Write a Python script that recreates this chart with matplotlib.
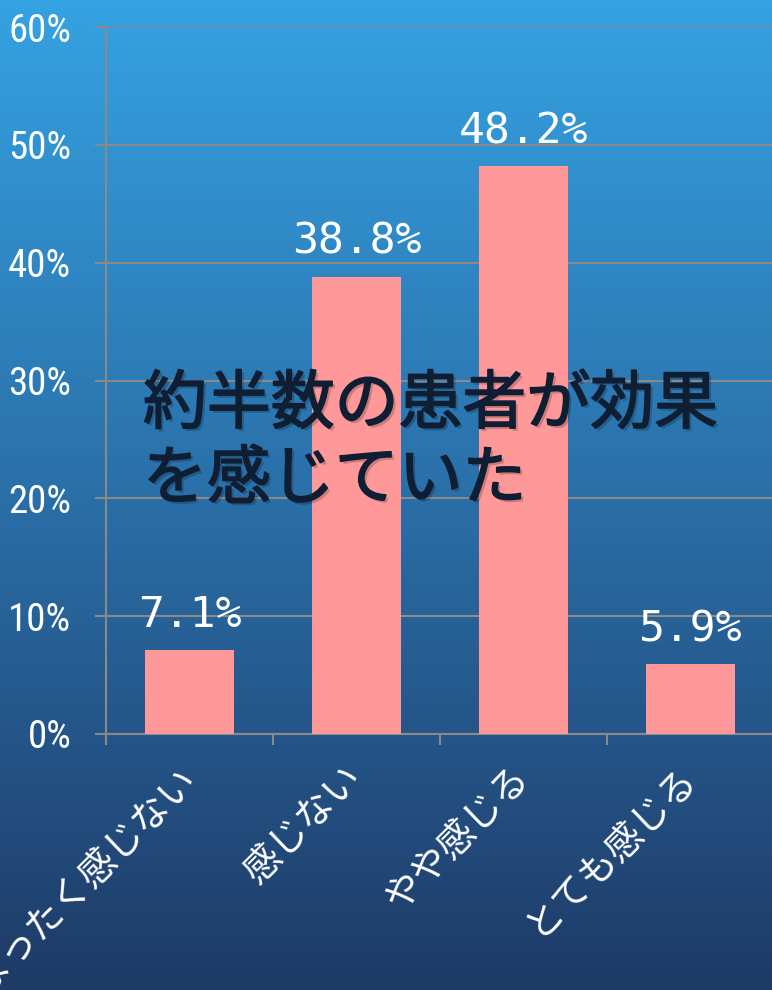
import matplotlib
matplotlib.use("Agg")
import matplotlib.pyplot as plt
import matplotlib.patheffects as pe
import numpy as np
from matplotlib.colors import LinearSegmentedColormap

# data
categories = ["まったく感じない", "感じない", "やや感じる", "とても感じる"]
shares = [7.1, 38.8, 48.2, 5.9]
share_labels = ["7.1%", "38.8%", "48.2%", "5.9%"]
y_ticks = [0, 10, 20, 30, 40, 50, 60]
y_tick_labels = ["0%", "10%", "20%", "30%", "40%", "50%", "60%"]
headline = ["約半数の患者が効果", "を感じていた"]

BAR = "#FF9999"
GRID = "#8a8a8a"
INK = "#0f1e33"

fig = plt.figure(figsize=(7.72, 9.9), dpi=100)

# gradient background
bg = fig.add_axes([0, 0, 1, 1], zorder=-1)
grad_cmap = LinearSegmentedColormap.from_list(
    "bg", [(0.0, "#35a2e2"), (0.5, "#2a6fa8"), (1.0, "#1e3a66")])
bg.imshow(np.linspace(0, 1, 256)[:, None], aspect="auto", cmap=grad_cmap,
          extent=[0, 1, 0, 1])
bg.axis("off")

ax = fig.add_axes([106 / 772, 256 / 990, 668 / 772, 707 / 990])
ax.patch.set_alpha(0)

x = np.arange(len(categories))
ax.bar(x, shares, width=0.53, color=BAR, zorder=3)

ax.set_xlim(-0.5, len(categories) - 0.5)
ax.set_ylim(0, 60)
ax.set_yticks(y_ticks)
ax.set_yticklabels(y_tick_labels, family=["Roboto Condensed", "Roboto", "DejaVu Sans"],
                   fontsize=28, color="white")
ax.yaxis.grid(True, color=GRID, lw=1.5, zorder=1)
ax.tick_params(axis="y", length=8, width=1.5, color=GRID, pad=17)

ax.set_xticks(x)
ax.set_xticklabels(categories, rotation=45, ha="right", va="center",
                   rotation_mode="anchor", family=["Noto Sans CJK JP", "DejaVu Sans"],
                   fontsize=27, color="white")
ax.set_xticks(np.arange(len(categories)) - 0.5, minor=True)
ax.tick_params(axis="x", which="major", length=0, pad=27)
ax.tick_params(axis="x", which="minor", length=8, width=1.5, color=GRID)

for s in ["top", "right"]:
    ax.spines[s].set_visible(False)
for s in ["left", "bottom"]:
    ax.spines[s].set_color(GRID)
    ax.spines[s].set_linewidth(1.5)

for xi, v, lab in zip(x, shares, share_labels):
    ax.annotate(lab, (xi, v), xytext=(0, 16.5), textcoords="offset points",
                ha="center", va="baseline", fontsize=31, color="white",
                family="DejaVu Sans Mono", zorder=4)

shadow = [pe.SimplePatchShadow(offset=(2, -2), shadow_rgbFace="#000000", alpha=0.2),
          pe.withStroke(linewidth=1.2, foreground=INK)]
fig.text(143 / 772, 1 - 405 / 990, headline[0], fontsize=46, color=INK,
         family=["Noto Sans CJK JP"], weight="normal", va="center", ha="left",
         path_effects=shadow)
fig.text(143 / 772, 1 - 480 / 990, headline[1], fontsize=46, color=INK,
         family=["Noto Sans CJK JP"], weight="normal", va="center", ha="left",
         path_effects=shadow)

fig.savefig("out.png", dpi=100)
